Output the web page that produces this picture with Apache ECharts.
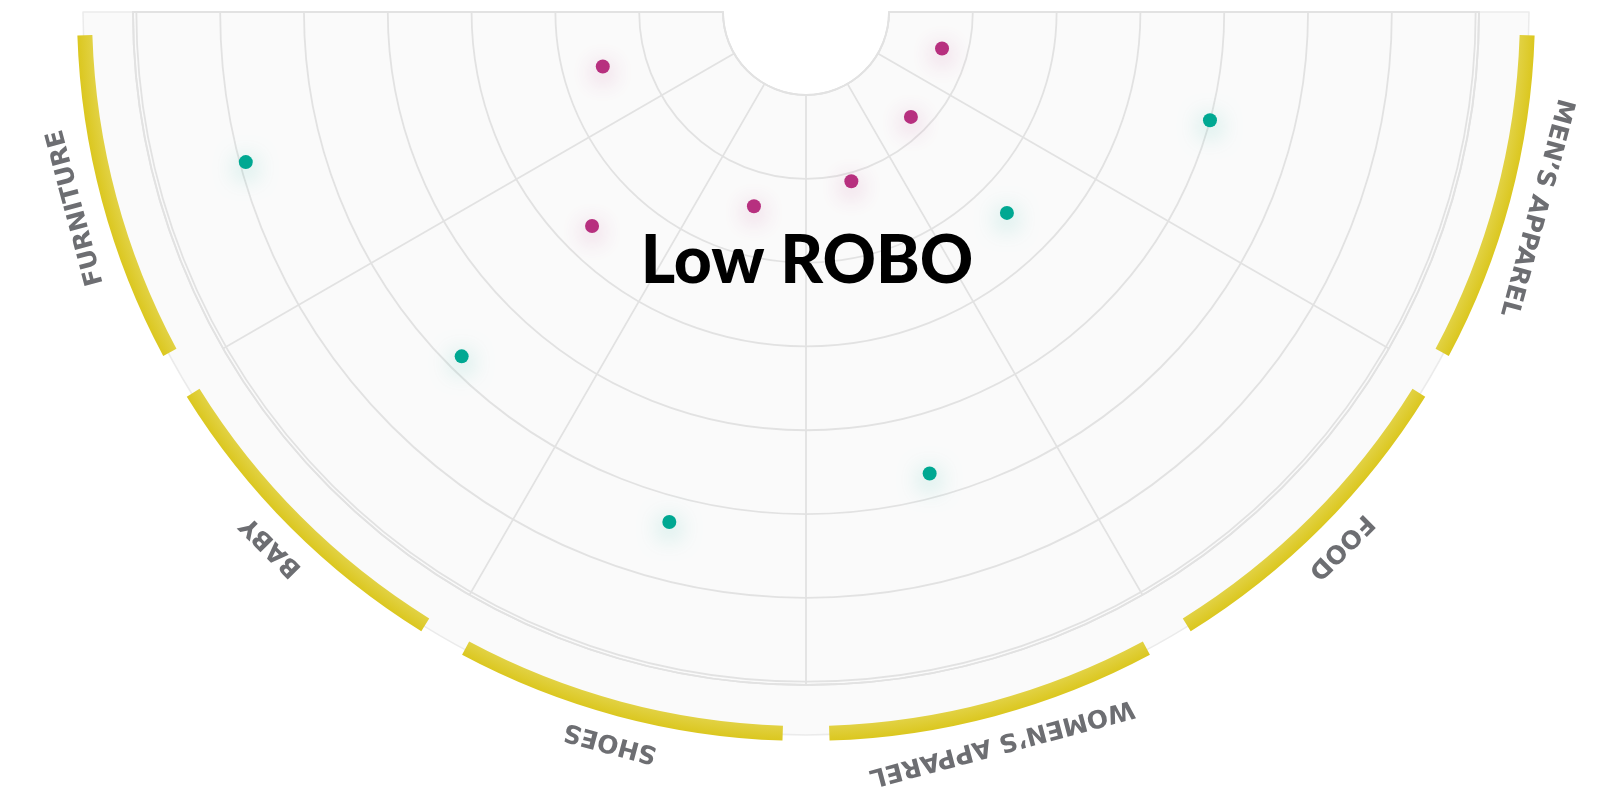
<!DOCTYPE html>
<html>
<head>
<meta charset="utf-8">
<script src="https://cdn.jsdelivr.net/npm/echarts@6/dist/echarts.min.js"></script>
<style>
  html, body { margin: 0; padding: 0; background: #ffffff; }
  #chart { width: 1614px; height: 793px; }
</style>
</head>
<body>
<div id="chart"></div>
<script>
// ---- data ----
const categories = ['FURNITURE', 'BABY', 'SHOES', 'WOMEN’S APPAREL', 'FOOD', 'MEN’S APPAREL'];
const tealScores = [5.93, 4.82, 5.31, 4.71, 2.40, 4.00];
const magentaScores = [1.52, 2.62, 1.41, 1.10, 0.78, 0.69];
const radiusTicks = [0, 1, 2, 3, 4, 5, 6, 7];
const centerTitle = 'Low ROBO';

// ---- layout / style ----
const CX = 806, CY = 12;
const gridColor = '#e2e2e2';
const sliceAngle = 180 / categories.length;

const chart = echarts.init(document.getElementById('chart'), null, { renderer: 'canvas' });

const option = {
  backgroundColor: '#ffffff',
  animation: false,
  polar: { center: [CX, CY], radius: [83, 673] },
  angleAxis: {
    type: 'category',
    data: categories,
    startAngle: 180,
    endAngle: 360,
    clockwise: false,
    boundaryGap: true,
    axisLine: { show: true, lineStyle: { color: gridColor, width: 1.8 } },
    axisTick: { show: false },
    axisLabel: { show: false },
    splitLine: { show: true, lineStyle: { color: gridColor, width: 1.8 } }
  },
  radiusAxis: {
    type: 'value',
    min: radiusTicks[0],
    max: radiusTicks[radiusTicks.length - 1] + 0.04,
    interval: 1,
    axisLine: { show: false },
    axisTick: { show: false },
    axisLabel: { show: false },
    splitLine: { show: true, lineStyle: { color: gridColor, width: 1.8 } }
  },
  graphic: [
    {
      type: 'rect',
      z: 90,
      silent: true,
      shape: { x: 0, y: 0, width: 1614, height: CY - 1 },
      style: { fill: '#ffffff' }
    },
    {
      type: 'text',
      x: CX + 1,
      y: 262,
      z: 100,
      style: {
        text: centerTitle,
        fill: '#000000',
        font: '900 66px Lato, "Open Sans", sans-serif',
        textAlign: 'center',
        textVerticalAlign: 'middle'
      }
    }
  ],
  series: [
    {
      // light background ring
      type: 'pie',
      silent: true,
      z: -1,
      center: [CX, CY],
      radius: [83, 723],
      startAngle: 180,
      endAngle: 360,
      clockwise: false,
      label: { show: false },
      labelLine: { show: false },
      itemStyle: { color: '#fafafa', borderColor: '#ebebeb', borderWidth: 1.5 },
      data: [{ name: 'bg', value: 1 }]
    },
    {
      // yellow category arcs
      type: 'pie',
      silent: true,
      z: 2,
      center: [CX, CY],
      radius: [714, 729],
      startAngle: 180,
      endAngle: 360,
      clockwise: false,
      padAngle: 3.7,
      avoidLabelOverlap: false,
      label: { show: false },
      labelLine: { show: false },
      itemStyle: {
        color: new echarts.graphic.RadialGradient(CX, CY, 729, [
          { offset: 0.975, color: '#e3d44c' },
          { offset: 1, color: '#dbc71f' }
        ], true)
      },
      data: categories.map(c => ({ name: c, value: 1 }))
    },
    {
      // category labels
      type: 'pie',
      silent: true,
      z: 3,
      center: [CX, CY],
      radius: [742, 764],
      startAngle: 180,
      endAngle: 360,
      clockwise: false,
      avoidLabelOverlap: false,
      itemStyle: { color: 'rgba(0,0,0,0)' },
      labelLine: { show: false },
      label: {
        show: true,
        position: 'inside',
        color: '#6d6e72',
        fontFamily: '"DejaVu Sans", sans-serif',
        fontWeight: 'bold',
        fontSize: 25
      },
      data: categories.map((c, i) => ({
        name: c,
        value: 1,
        label: { rotate: 90 + sliceAngle / 2 + sliceAngle * i }
      }))
    },
    {
      type: 'scatter',
      coordinateSystem: 'polar',
      z: 5,
      symbolSize: 14,
      itemStyle: {
        color: '#b7307f',
        opacity: 1,
        shadowBlur: 24,
        shadowOffsetY: 6,
        shadowColor: 'rgba(183,48,127,0.5)'
      },
      data: magentaScores.map((v, i) => [v, i])
    },
    {
      type: 'scatter',
      coordinateSystem: 'polar',
      z: 5,
      symbolSize: 14,
      itemStyle: {
        color: '#00a892',
        opacity: 1,
        shadowBlur: 24,
        shadowOffsetY: 6,
        shadowColor: 'rgba(0,168,146,0.5)'
      },
      data: tealScores.map((v, i) => [v, i])
    }
  ]
};

chart.setOption(option);
</script>
</body>
</html>
